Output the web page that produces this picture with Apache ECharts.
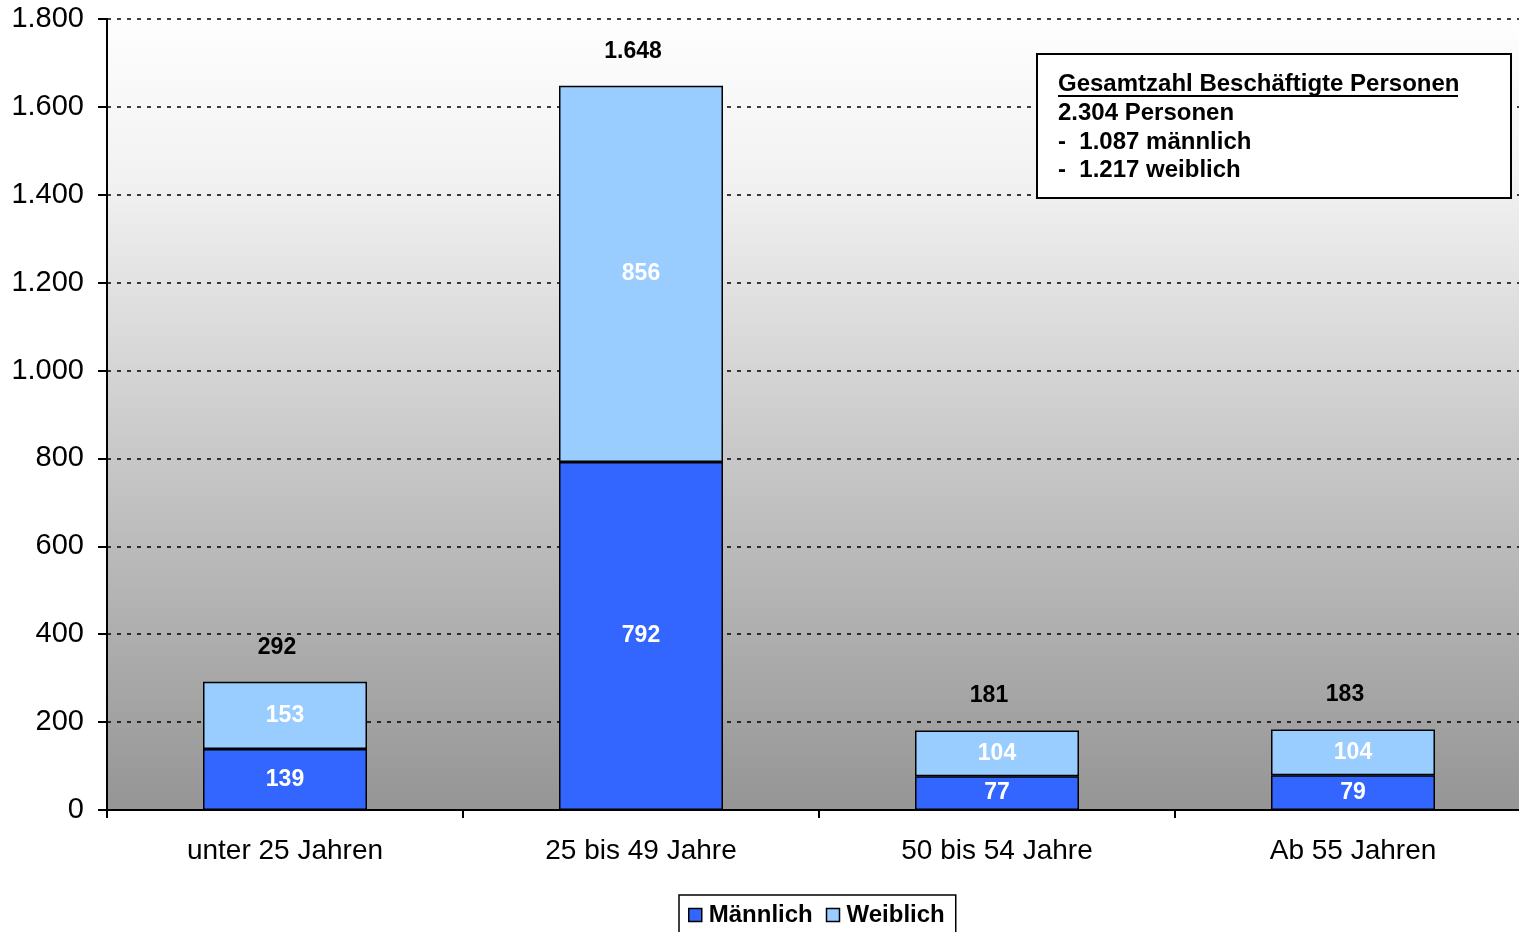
<!DOCTYPE html>
<html>
<head>
<meta charset="utf-8">
<script src="https://cdn.jsdelivr.net/npm/echarts@6/dist/echarts.min.js"></script>
<style>html,body{margin:0;padding:0;background:#fff;}#c{width:1519px;height:932px;}</style>
</head>
<body>
<div id="c"></div>
<script>
var categories = ['unter 25 Jahren', '25 bis 49 Jahre', '50 bis 54 Jahre', 'Ab 55 Jahren'];
var maennlich = [139, 792, 77, 79];
var weiblich = [153, 856, 104, 104];
var totals = [292, 1648, 181, 183];
var yTicks = [0, 200, 400, 600, 800, 1000, 1200, 1400, 1600, 1800];
var infoLines = ['Gesamtzahl Beschäftigte Personen', '2.304 Personen', '-  1.087 männlich', '-  1.217 weiblich'];

var FONT = '"Liberation Sans", Arial, sans-serif';
function de(v) { return String(v).replace(/\B(?=(\d{3})+(?!\d))/g, '.'); }

var chart = echarts.init(document.getElementById('c'));
var option = {
  backgroundColor: '#ffffff',
  animation: false,
  textStyle: { fontFamily: FONT },
  grid: {
    left: 107, width: 1424, top: 19, bottom: 122,
    containLabel: false,
    outerBoundsMode: 'none',
    show: true, borderWidth: 0,
    backgroundColor: new echarts.graphic.LinearGradient(0, 0, 0, 1, [
      { offset: 0, color: '#fefefe' },
      { offset: 0.2, color: '#f2f2f2' },
      { offset: 0.55, color: '#c8c8c8' },
      { offset: 1, color: '#959595' }
    ])
  },
  legend: {
    data: ['Männlich', 'Weiblich'],
    left: 679, top: 895,
    padding: [8, 11, 12, 9],
    borderColor: '#000', borderWidth: 1.5,
    backgroundColor: '#fff',
    itemWidth: 13, itemHeight: 13, itemGap: 13,
    icon: 'rect',
    textStyle: { fontFamily: FONT, fontSize: 24, fontWeight: 'bold', color: '#000', padding: [0, 0, 0, 2] },
    itemStyle: { borderColor: '#000', borderWidth: 1.5 }
  },
  xAxis: {
    type: 'category',
    data: categories,
    axisLine: { lineStyle: { color: '#000', width: 2 } },
    axisTick: { show: true, length: 8, lineStyle: { color: '#000', width: 2 } },
    axisLabel: { color: '#000', fontSize: 28, margin: 27, fontFamily: FONT }
  },
  yAxis: {
    type: 'value',
    min: 0, max: 1800, interval: 200,
    axisLine: { show: true, lineStyle: { color: '#000', width: 2 } },
    axisTick: { show: true, length: 9, lineStyle: { color: '#000', width: 2 } },
    axisLabel: { color: '#000', fontSize: 29, margin: 23, fontFamily: FONT, formatter: function (v) { return de(v); } },
    splitLine: { show: true, lineStyle: { color: '#000', width: 1.5, type: [4, 6] } }
  },
  series: [
    {
      name: 'Männlich', type: 'bar', stack: 's', barWidth: 164,
      data: maennlich,
      itemStyle: { color: '#3366ff', borderColor: '#000', borderWidth: 1.5 },
      label: { show: true, position: 'inside', color: '#fff', fontSize: 23, fontWeight: 'bold', fontFamily: FONT }
    },
    {
      name: 'Weiblich', type: 'bar', stack: 's', barWidth: 164,
      data: weiblich,
      itemStyle: { color: '#99ccff', borderColor: '#000', borderWidth: 1.5 },
      label: { show: true, position: 'inside', color: '#fff', fontSize: 23, fontWeight: 'bold', fontFamily: FONT }
    },
    {
      name: 'Summe', type: 'scatter', symbolSize: 0,
      data: totals,
      silent: true,
      itemStyle: { opacity: 1 },
      label: { show: true, position: 'top', distance: 23, offset: [-8, 0], color: '#000', opacity: 1, fontSize: 23, fontWeight: 'bold', fontFamily: FONT,
        formatter: function (p) { return de(p.value); } }
    }
  ],
  graphic: [
    {
      type: 'group', left: 1036, top: 53, z: 100,
      children: [
        { type: 'rect', z: 100, shape: { x: 0, y: 0, width: 474, height: 144 }, style: { fill: '#fff', stroke: '#000', lineWidth: 2 } },
        { type: 'text', z: 101, x: 21, y: 30, style: { text: infoLines[0], font: 'bold 24px ' + FONT, fill: '#000', verticalAlign: 'middle' } },
        { type: 'line', z: 101, shape: { x1: 21, y1: 42, x2: 421, y2: 42 }, style: { stroke: '#000', lineWidth: 2 } },
        { type: 'text', z: 101, x: 21, y: 59, style: { text: infoLines[1], font: 'bold 24px ' + FONT, fill: '#000', verticalAlign: 'middle' } },
        { type: 'text', z: 101, x: 21, y: 88, style: { text: infoLines[2], font: 'bold 24px ' + FONT, fill: '#000', verticalAlign: 'middle' } },
        { type: 'text', z: 101, x: 21, y: 116, style: { text: infoLines[3], font: 'bold 24px ' + FONT, fill: '#000', verticalAlign: 'middle' } }
      ]
    }
  ]
};
chart.setOption(option);
</script>
</body>
</html>
